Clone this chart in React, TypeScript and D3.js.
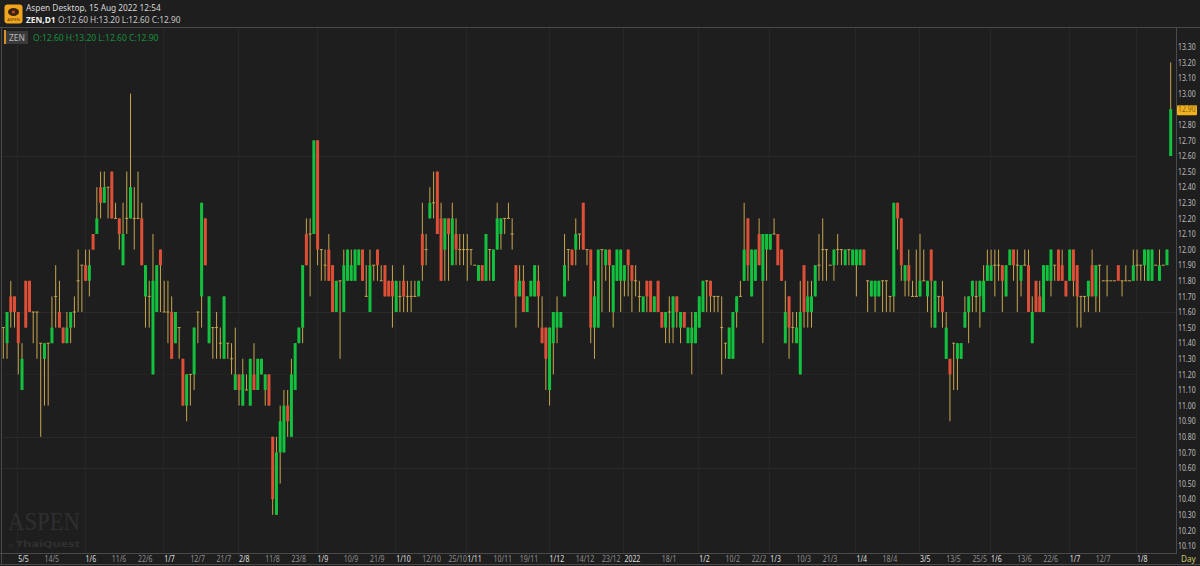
import { useEffect, useRef } from "react";
import * as d3 from "d3";

const opens = [
  11.5,11.4,11.7,11.7,11.6,11.1,11.8,11.8,11.6,11.6, 11.4,11.3,11.4,11.4,11.7,11.6,11.5,11.4,11.5,11.6,
  11.8,11.9,11.9,11.8,12.1,12.1,12.4,12.3,12.4,12.5, 12.2,12.2,11.9,12.2,12.2,12.2,12.2,12.2,11.7,11.7,
  11.2,11.6,12.0,11.6,11.6,11.6,11.4,11.5,11.3,11.0, 11.2,11.2,11.6,11.7,12.2,11.4,11.5,11.5,11.4,11.3,
  11.4,11.3,11.1,11.2,11.0,11.1,11.0,11.2,11.1,11.2, 11.1,11.2,10.8,10.3,10.7,10.7,11.0,10.8,11.1,11.4,
  11.5,12.1,12.1,12.1,12.7,12.0,11.9,12.0,11.9,11.6, 11.8,11.6,11.8,11.8,11.8,11.9,12.0,11.7,11.6,11.9,
  12.0,11.8,11.9,11.8,11.8,11.6,11.7,11.8,11.7,11.7, 11.7,11.7,12.1,12.0,12.2,12.3,12.5,12.2,12.0,12.2,
  11.9,12.1,12.0,12.0,12.0,12.0,11.9,11.8,11.9,11.8, 12.0,11.8,12.0,12.1,12.2,12.2,12.1,11.9,11.7,11.8,
  11.6,11.7,11.7,11.8,11.5,11.5,11.1,11.4,11.5,11.5, 11.7,12.0,12.0,12.0,12.1,12.3,12.0,12.0,11.5,11.5,
  12.0,11.9,12.0,11.6,11.8,11.8,11.8,12.0,11.9,11.8, 11.7,11.6,11.8,11.8,11.6,11.8,11.6,11.5,11.6,11.5,
  11.7,11.5,11.6,11.4,11.4,11.4,11.5,11.6,11.8,11.8, 11.7,11.7,11.5,11.4,11.3,11.3,11.6,11.7,11.8,12.2,
  11.7,11.8,12.1,11.8,12.0,12.0,12.1,12.1,12.0,11.4, 11.7,11.5,11.4,11.2,11.9,11.6,11.6,11.7,11.9,12.0,
  12.0,11.9,11.9,12.0,12.0,11.9,12.0,11.9,11.9,11.9, 12.0,11.8,11.7,11.7,11.7,11.8,11.8,11.7,11.7,12.3,
  12.2,11.8,11.9,11.7,11.7,11.7,11.8,11.7,12.0,11.5, 11.7,11.7,11.3,11.3,11.4,11.3,11.3,11.5,11.6,11.7,
  11.7,11.7,11.6,11.8,11.8,11.9,11.9,11.9,11.7,11.9, 12.0,11.9,11.8,11.9,11.9,11.4,11.8,11.7,11.6,11.8,
  11.8,11.9,12.0,11.9,11.8,11.8,12.0,11.9,11.7,11.7, 11.7,11.9,11.7,11.9,11.8,11.8,11.8,11.8,11.9,11.8,
  11.8,11.8,11.8,11.9,11.9,11.9,11.8,11.8,11.9,11.8,11.9,11.9,12.6,
];

const highs = [
  11.5,11.6,11.8,11.7,11.6,11.4,11.8,11.8,11.6,11.6, 11.4,11.4,11.4,11.7,11.9,11.8,11.5,11.6,11.6,11.7,
  12.0,11.9,12.0,12.0,12.1,12.4,12.5,12.5,12.4,12.5, 12.3,12.2,12.3,12.5,13.0,12.4,12.5,12.3,11.9,11.8,
  12.1,11.9,12.0,11.8,11.8,11.7,11.6,11.5,11.3,11.2, 11.2,11.5,11.6,12.3,12.2,11.7,11.5,11.6,11.5,11.7,
  11.4,11.4,11.5,11.2,11.3,11.2,11.3,11.4,11.3,11.3, 11.2,11.2,10.8,10.8,11.0,11.1,11.1,11.3,11.4,11.5,
  11.9,12.2,12.2,12.7,12.7,12.0,12.0,12.1,11.9,11.8, 11.8,12.0,12.0,12.0,12.0,12.0,12.0,11.9,12.0,11.9,
  12.0,11.9,11.9,11.8,11.9,11.8,11.8,11.9,11.8,11.8, 11.8,11.8,12.3,12.1,12.4,12.5,12.5,12.3,12.2,12.2,
  12.3,12.2,12.1,12.1,12.1,12.0,11.9,11.9,11.9,12.1, 12.0,12.0,12.3,12.2,12.2,12.3,12.2,11.9,11.9,11.9,
  11.7,11.8,11.9,11.9,11.7,11.5,11.5,11.6,11.7,11.6, 12.1,12.0,12.0,12.2,12.1,12.3,12.0,12.0,11.8,12.0,
  12.0,12.0,12.0,11.9,12.0,12.0,11.9,12.0,11.9,11.9, 11.8,11.7,11.8,11.8,11.7,11.8,11.6,11.6,11.7,11.7,
  11.7,11.6,11.6,11.5,11.6,11.6,11.7,11.8,11.8,11.8, 11.7,11.7,11.7,11.4,11.5,11.6,11.7,11.8,12.3,12.2,
  12.0,12.0,12.2,12.1,12.1,12.1,12.2,12.1,12.0,11.8, 11.7,11.6,11.6,11.8,11.9,11.8,11.8,11.9,12.1,12.2,
  12.0,11.9,12.0,12.1,12.0,12.0,12.0,12.0,12.0,12.0, 12.0,11.8,11.8,11.8,11.8,11.8,11.8,11.7,12.3,12.3,
  12.2,11.9,12.0,11.8,12.0,12.1,12.0,11.8,12.0,11.8, 11.7,11.8,11.6,11.3,11.4,11.4,11.4,11.7,11.7,11.8,
  11.8,11.8,11.9,12.0,12.0,12.0,12.0,11.9,11.9,12.0, 12.0,12.0,11.9,12.0,12.0,11.7,11.8,11.8,11.9,11.9,
  12.0,11.9,12.0,12.0,11.8,12.0,12.0,11.9,11.7,11.7, 11.8,12.0,11.9,11.9,11.8,11.9,11.8,11.8,11.9,11.8,
  11.9,11.8,12.0,12.0,11.9,12.0,12.0,12.0,11.9,12.0,11.9,12.0,13.2,
];

const lows = [
  11.3,11.3,11.5,11.5,11.2,11.1,11.5,11.6,11.4,11.3, 10.8,11.0,11.0,11.4,11.5,11.5,11.4,11.4,11.4,11.5,
  11.6,11.6,11.8,11.7,12.0,12.1,12.2,12.3,12.2,12.2, 12.2,12.0,11.9,12.1,12.2,12.0,12.2,11.9,11.5,11.5,
  11.2,11.6,11.6,11.6,11.4,11.3,11.4,11.3,11.0,10.9, 11.0,11.1,11.4,11.5,11.9,11.4,11.3,11.3,11.3,11.3,
  11.3,11.2,11.1,11.0,11.0,11.1,11.0,11.1,11.1,11.2, 11.0,11.0,10.3,10.3,10.5,10.7,10.8,10.8,11.1,11.4,
  11.4,11.9,11.7,12.1,11.9,11.8,11.8,11.8,11.6,11.6, 11.3,11.6,11.8,11.8,11.8,11.9,11.8,11.7,11.6,11.8,
  11.8,11.8,11.7,11.7,11.5,11.6,11.6,11.6,11.6,11.6, 11.7,11.7,11.8,11.9,12.2,12.2,12.1,11.8,11.8,11.8,
  11.9,11.9,11.9,11.9,11.8,11.9,11.9,11.8,11.8,11.8, 11.8,11.8,12.0,12.0,12.1,12.2,12.0,11.5,11.7,11.6,
  11.6,11.7,11.7,11.5,11.4,11.1,11.0,11.2,11.4,11.5, 11.7,11.8,11.9,11.9,12.0,12.0,11.9,11.4,11.3,11.5,
  11.6,11.8,11.6,11.5,11.8,11.6,11.7,11.7,11.6,11.7, 11.6,11.6,11.6,11.6,11.6,11.6,11.5,11.4,11.4,11.4,
  11.5,11.4,11.5,11.4,11.2,11.4,11.5,11.6,11.6,11.6, 11.6,11.6,11.2,11.3,11.3,11.3,11.5,11.7,11.8,11.8,
  11.7,11.8,11.9,11.4,11.8,12.0,12.1,11.9,11.8,11.4, 11.3,11.4,11.4,11.2,11.5,11.5,11.5,11.7,11.8,11.8,
  11.8,11.9,11.8,11.9,11.9,11.9,11.9,11.9,11.7,11.9, 11.9,11.6,11.7,11.6,11.7,11.6,11.6,11.6,11.6,12.0,
  11.8,11.7,11.7,11.7,11.7,11.7,11.8,11.6,11.5,11.5, 11.6,11.5,11.3,10.9,11.1,11.1,11.3,11.5,11.4,11.6,
  11.6,11.5,11.6,11.8,11.8,11.7,11.8,11.6,11.7,11.9, 11.8,11.6,11.7,11.9,11.6,11.4,11.6,11.6,11.6,11.8,
  11.7,11.8,11.8,11.8,11.7,11.8,11.7,11.5,11.5,11.6, 11.6,11.7,11.6,11.6,11.8,11.7,11.8,11.8,11.8,11.7,
  11.8,11.8,11.8,11.8,11.8,11.8,11.8,11.8,11.9,11.8,11.9,11.9,12.6,
];

const closes = [
  11.5,11.6,11.6,11.6,11.4,11.3,11.5,11.6,11.6,11.6, 11.4,11.4,11.4,11.5,11.7,11.5,11.4,11.5,11.6,11.6,
  11.8,11.9,11.8,11.9,12.0,12.2,12.3,12.4,12.4,12.2, 12.2,12.1,12.1,12.2,12.4,12.2,12.2,11.9,11.9,11.7,
  11.8,11.9,11.9,11.6,11.6,11.3,11.6,11.5,11.0,11.2, 11.2,11.5,11.6,12.3,11.9,11.7,11.5,11.5,11.4,11.7,
  11.4,11.3,11.2,11.1,11.2,11.1,11.3,11.1,11.3,11.3, 11.2,11.0,10.4,10.7,10.9,11.0,10.9,11.2,11.4,11.5,
  11.9,11.9,12.1,12.7,12.0,12.0,11.9,11.8,11.6,11.8, 11.8,11.9,12.0,11.9,12.0,12.0,11.8,11.7,11.9,11.9,
  11.9,11.8,11.7,11.7,11.7,11.8,11.7,11.7,11.7,11.7, 11.7,11.8,11.9,12.0,12.3,12.3,12.1,11.8,12.2,12.1,
  12.2,12.0,12.0,12.0,12.0,12.0,11.9,11.9,11.8,12.1, 12.0,12.0,12.2,12.2,12.2,12.2,12.1,11.7,11.8,11.6,
  11.7,11.8,11.9,11.7,11.4,11.3,11.5,11.6,11.6,11.6, 11.9,12.0,11.9,12.1,12.1,12.0,12.0,11.5,11.7,12.0,
  12.0,12.0,11.9,11.9,12.0,12.0,11.9,11.9,11.8,11.8, 11.7,11.7,11.7,11.6,11.7,11.6,11.5,11.6,11.6,11.7,
  11.6,11.6,11.5,11.5,11.5,11.6,11.7,11.8,11.8,11.7, 11.7,11.7,11.5,11.4,11.5,11.6,11.7,11.7,12.0,11.9,
  12.0,12.0,11.9,12.1,12.1,12.1,12.1,11.9,11.8,11.6, 11.5,11.5,11.5,11.6,11.6,11.7,11.7,11.9,11.9,12.0,
  12.0,11.9,12.0,12.0,12.0,12.0,12.0,12.0,12.0,12.0, 11.9,11.8,11.8,11.8,11.8,11.8,11.8,11.7,12.3,12.2,
  11.9,11.9,11.8,11.7,11.7,11.8,11.8,11.8,11.8,11.8, 11.7,11.6,11.5,11.2,11.4,11.4,11.4,11.6,11.7,11.8,
  11.7,11.8,11.8,11.9,11.9,11.9,11.9,11.8,11.9,12.0, 11.9,11.9,11.9,11.9,11.6,11.6,11.6,11.6,11.9,11.9,
  12.0,11.9,11.8,11.8,11.7,12.0,11.8,11.7,11.7,11.7, 11.8,11.7,11.9,11.9,11.8,11.8,11.8,11.8,11.8,11.8,
  11.8,11.8,11.9,11.9,11.9,12.0,12.0,12.0,11.9,11.9,11.9,12.0,12.9,
];

// bar index -> date label on the time axis
const majorTickBars = [4, 22, 43, 63, 84, 105, 124, 146, 166, 186, 205, 228, 245, 264, 285, 303];
const majorTickLabels = ["5/5", "1/6", "1/7", "2/8", "1/9", "1/10", "1/11", "1/12", "2022", "1/2", "1/3", "1/4", "3/5", "1/6", "1/7", "1/8"];
const minorTickBars = [11, 29, 36, 50, 57, 70, 77, 91, 98, 112, 119, 131, 138, 153, 160, 176, 193, 200, 212, 219, 235, 252, 259, 271, 278, 292];
const minorTickLabels = ["14/5", "11/6", "22/6", "12/7", "21/7", "11/8", "23/8", "10/9", "21/9", "12/10", "25/10", "10/11", "19/11", "14/12", "23/12", "18/1", "10/2", "22/2", "10/3", "21/3", "18/4", "13/5", "25/5", "13/6", "22/6", "12/7"];

const priceTicks = d3.range(101, 134).map((d) => d / 10);
const priceGridLines = [12.6, 11.6, 10.8, 10.6];
const faintGridLines = [11.2];
const lastClose = 12.9;

const WIDTH = 1200;
const HEIGHT = 566;
const FONT = "'Noto Sans', 'Open Sans', sans-serif";
const UP = "#12c23f";
const DOWN = "#de4f38";
const WICK = "#c8a650";

// the axis font in the picture is narrower than any installed one
function squeeze(sel: any, ratio: number) {
  sel.each(function (this: SVGTextElement) {
    this.setAttribute("textLength", String(this.getComputedTextLength() * ratio));
    this.setAttribute("lengthAdjust", "spacingAndGlyphs");
  });
}

export default function App() {
  const ref = useRef<SVGSVGElement | null>(null);

  useEffect(() => {
    if (!ref.current) return;
    const svg = d3.select(ref.current);
    svg.selectAll("*").remove();

    const x = d3.scaleLinear().domain([0, opens.length - 1]).range([3.3, 1170.7]);
    const y = d3.scaleLinear().domain([10.1, 13.3]).range([546, 46.8]);

    svg.append("rect").attr("width", WIDTH).attr("height", HEIGHT).attr("fill", "#1e1e1e");

    // faint grid
    const grid = svg.append("g");
    grid
      .selectAll("line.h")
      .data(priceGridLines)
      .join("line")
      .attr("class", "h")
      .attr("x1", 3)
      .attr("x2", (d) => (d === 11.6 ? 1176 : 1137))
      .attr("y1", (d) => Math.round(y(d)) + 0.5)
      .attr("y2", (d) => Math.round(y(d)) + 0.5)
      .attr("stroke", "#2b2b2b");
    grid
      .selectAll("line.f")
      .data(faintGridLines)
      .join("line")
      .attr("class", "f")
      .attr("x1", 3)
      .attr("x2", 1137)
      .attr("y1", (d) => Math.round(y(d)) + 0.5)
      .attr("y2", (d) => Math.round(y(d)) + 0.5)
      .attr("stroke", "#232323");
    grid
      .selectAll("line.v")
      .data(majorTickBars)
      .join("line")
      .attr("class", "v")
      .attr("x1", (d) => Math.round(x(d)) - 0.5)
      .attr("x2", (d) => Math.round(x(d)) - 0.5)
      .attr("y1", 28)
      .attr("y2", 553)
      .attr("stroke", "#262626");

    // watermark
    svg
      .append("text")
      .attr("x", 8)
      .attr("y", 530)
      .attr("font-family", "'Liberation Serif', serif")
      .attr("font-size", 25)
      .attr("textLength", 72)
      .attr("lengthAdjust", "spacingAndGlyphs")
      .attr("fill", "#2f2f2f")
      .text("ASPEN");
    svg
      .append("text")
      .attr("x", 8)
      .attr("y", 547)
      .attr("font-family", FONT)
      .attr("font-size", 5.5)
      .attr("fill", "#2f2f2f")
      .text("by");
    svg
      .append("text")
      .attr("x", 16)
      .attr("y", 547)
      .attr("font-family", FONT)
      .attr("font-weight", 700)
      .attr("font-size", 9.5)
      .attr("textLength", 64)
      .attr("lengthAdjust", "spacingAndGlyphs")
      .attr("fill", "#313131")
      .text("ThaiQuest");

    // candles
    const bars = d3.range(opens.length);
    svg
      .append("g")
      .selectAll("line")
      .data(bars)
      .join("line")
      .attr("x1", (i) => x(i))
      .attr("x2", (i) => x(i))
      .attr("y1", (i) => y(highs[i]))
      .attr("y2", (i) => y(lows[i]))
      .attr("stroke", WICK)
      .attr("stroke-width", 1);
    svg
      .append("g")
      .selectAll("line")
      .data(bars.filter((i) => opens[i] === closes[i]))
      .join("line")
      .attr("x1", (i) => x(i) - 1.5)
      .attr("x2", (i) => x(i) + 1.5)
      .attr("y1", (i) => y(closes[i]))
      .attr("y2", (i) => y(closes[i]))
      .attr("stroke", WICK)
      .attr("stroke-width", 1);
    svg
      .append("g")
      .selectAll("rect")
      .data(bars.filter((i) => opens[i] !== closes[i]))
      .join("rect")
      .attr("x", (i) => x(i) - 1.5)
      .attr("width", 3)
      .attr("y", (i) => y(Math.max(opens[i], closes[i])))
      .attr("height", (i) => Math.abs(y(opens[i]) - y(closes[i])))
      .attr("fill", (i) => (closes[i] > opens[i] ? UP : DOWN));

    // price axis
    const yAxis = d3
      .axisRight(y)
      .tickValues(priceTicks)
      .tickSize(0)
      .tickPadding(1)
      .tickFormat((d) => d3.format(".2f")(d as number));
    const yG = svg.append("g").attr("transform", "translate(1177,0)").call(yAxis);
    yG.select(".domain").remove();
    yG.selectAll("text")
      .attr("font-family", FONT)
      .attr("font-size", 8.2)
      .attr("fill", "#bdbdbd")
      .call(squeeze, 0.84);
    yG.selectAll<SVGGElement, number>(".tick")
      .filter((d) => Math.abs(d - lastClose) < 0.001)
      .each(function () {
        const tick = d3.select(this);
        tick
          .insert("rect", "text")
          .attr("x", 0)
          .attr("y", -4.5)
          .attr("width", 20)
          .attr("height", 10)
          .attr("rx", 1)
          .attr("fill", "#f0b21e");
        tick.select("text").attr("fill", "#8a6414");
      });

    // time axis
    const labelAxis = (ticks: number[], labels: string[], color: string) => {
      const axis = d3
        .axisBottom(x)
        .tickValues(ticks)
        .tickSize(0)
        .tickPadding(3)
        .tickFormat((_, i) => labels[i]);
      const g = svg.append("g").attr("transform", "translate(-0.5,553)").call(axis);
      g.select(".domain").remove();
      g.selectAll("text")
        .attr("text-anchor", "start")
        .attr("font-family", FONT)
        .attr("font-size", 8.2)
        .attr("fill", color)
        .call(squeeze, 0.85);
    };
    labelAxis(minorTickBars, minorTickLabels, "#8f8f8f");
    labelAxis(majorTickBars, majorTickLabels, "#dedede");
    svg
      .append("text")
      .attr("x", 1181)
      .attr("y", 561.5)
      .attr("font-family", FONT)
      .attr("font-size", 8.2)
      .attr("fill", "#c8c86a")
      .text("Day");

    // frame
    const frame = "#4a4a4a";
    const frameLine = (x1: number, y1: number, x2: number, y2: number, color = frame) =>
      svg
        .append("line")
        .attr("x1", x1)
        .attr("y1", y1)
        .attr("x2", x2)
        .attr("y2", y2)
        .attr("stroke", color);
    frameLine(0, 27.5, WIDTH, 27.5);
    frameLine(1.5, 27, 1.5, 564);
    frameLine(1176.5, 27, 1176.5, 553);
    frameLine(0, 553.5, 1177, 553.5);
    frameLine(0, 564.5, WIDTH, 564.5);

    // header
    svg
      .append("rect")
      .attr("x", 4.5)
      .attr("y", 4.5)
      .attr("width", 18)
      .attr("height", 19)
      .attr("rx", 3)
      .attr("fill", "#f0a51e");
    svg.append("ellipse").attr("cx", 13.5).attr("cy", 12).attr("rx", 5.5).attr("ry", 4).attr("fill", "#3a2410");
    svg.append("circle").attr("cx", 13.5).attr("cy", 12).attr("r", 1.6).attr("fill", "#c9442a");
    svg
      .append("text")
      .attr("x", 13.5)
      .attr("y", 20.5)
      .attr("text-anchor", "middle")
      .attr("font-family", FONT)
      .attr("font-size", 4)
      .attr("fill", "#5b3208")
      .text("ASPEN");

    svg
      .append("text")
      .attr("x", 26)
      .attr("y", 11)
      .attr("font-family", FONT)
      .attr("font-size", 8.3)
      .attr("fill", "#d6d6d6")
      .text("Aspen Desktop, 15 Aug 2022 12:54");
    svg
      .append("text")
      .attr("x", 26)
      .attr("y", 23)
      .attr("font-family", FONT)
      .attr("font-size", 8.4)
      .attr("font-weight", 700)
      .attr("fill", "#ececec")
      .text("ZEN,D1");
    svg
      .append("text")
      .attr("x", 58)
      .attr("y", 23)
      .attr("font-family", FONT)
      .attr("font-size", 8.3)
      .attr("fill", "#c8c8c8")
      .text("O:12.60 H:13.20 L:12.60 C:12.90");

    // symbol legend
    svg.append("rect").attr("x", 4).attr("y", 30).attr("width", 2).attr("height", 14).attr("fill", "#d9902a");
    svg.append("rect").attr("x", 6).attr("y", 31).attr("width", 22).attr("height", 13).attr("fill", "#3a3a3a");
    svg
      .append("text")
      .attr("x", 9)
      .attr("y", 41)
      .attr("font-family", FONT)
      .attr("font-size", 8.5)
      .attr("fill", "#b8b8b8")
      .text("ZEN");
    svg
      .append("text")
      .attr("x", 33)
      .attr("y", 41)
      .attr("font-family", FONT)
      .attr("font-size", 8.5)
      .attr("fill", "#13913d")
      .text("O:12.60 H:13.20 L:12.60 C:12.90");
  }, []);

  return (
    <svg
      ref={ref}
      width={WIDTH}
      height={HEIGHT}
      style={{ position: "absolute", left: 0, top: 0, display: "block" }}
    />
  );
}
